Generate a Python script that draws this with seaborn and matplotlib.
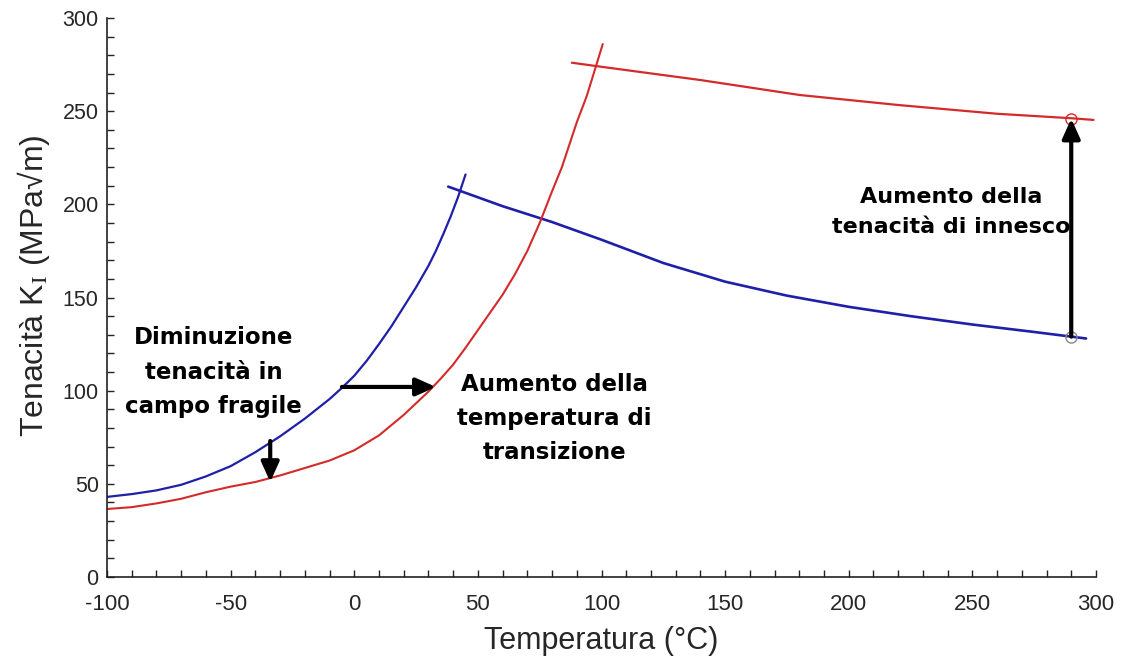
import matplotlib
matplotlib.use('Agg')
import matplotlib.pyplot as plt
import seaborn as sns
from matplotlib import font_manager as fm
from matplotlib.ticker import MultipleLocator

# ---- data ----
blue_low_x = [-100, -90, -80, -70, -60, -50, -40, -30, -20, -10, -5, 0, 5, 10, 15, 20, 25, 30, 33, 36, 39, 42, 45]
blue_low_y = [43, 44.5, 46.5, 49.5, 54, 59.5, 67, 75.5, 85, 95.5, 101.5, 108, 116, 125, 134.5, 145, 155.5, 167, 175, 184, 193.5, 204, 216]

blue_up_x = [38, 60, 80, 100, 125, 150, 175, 200, 225, 250, 275, 290, 296]
blue_up_y = [209.5, 199, 190.5, 181, 168.5, 158.5, 151, 145, 140, 135.5, 131.5, 129, 128]

red_low_x = [-100, -90, -80, -70, -60, -50, -40, -30, -20, -10, 0, 10, 20, 30, 35, 40, 45, 50, 55, 60, 65, 70, 75, 80, 84, 87, 90, 94, 97.5, 100.5]
red_low_y = [36.5, 37.5, 39.5, 42, 45.5, 48.5, 51, 54.5, 58.5, 62.5, 68, 76, 87, 99.5, 106.5, 114, 123, 132.5, 142, 151.5, 162.5, 175, 190, 207, 220, 232, 244, 258, 273, 286]

red_up_x = [88, 100, 140, 180, 220, 260, 290, 299]
red_up_y = [276, 273.8, 266.7, 258.7, 253.3, 248.6, 246.2, 245.3]

marker_x = [290, 290]
marker_y = [129, 246]

# arrows: (tail_x, tail_y) -> (head_x, head_y)
arrow_tail_x = [-34, -5, 290]
arrow_tail_y = [73, 102, 129]
arrow_head_x = [-34, 33, 290]
arrow_head_y = [51, 102, 246]

notes = ["Diminuzione\ntenacità in\ncampo fragile",
         "Aumento della\ntemperatura di\ntransizione",
         "Aumento della\ntenacità di innesco"]
note_x = [-57, 81, 241.5]
note_y = [110, 85, 196]
note_size = [16.5, 16.5, 16]

x_ticks = [-100, -50, 0, 50, 100, 150, 200, 250, 300]
y_ticks = [0, 50, 100, 150, 200, 250, 300]

BLUE = '#1f1fa8'
RED = '#d42a2a'

sns.set_theme(style='white')
plt.rcParams['font.family'] = ['Liberation Sans', 'DejaVu Sans']
plt.rcParams['mathtext.fontset'] = 'stix'

names = {f.name for f in fm.fontManager.ttflist}
narrow = 'Liberation Sans Narrow' if 'Liberation Sans Narrow' in names else 'Liberation Sans'

fig = plt.figure(figsize=(11.22, 6.66), dpi=100)
ax = fig.add_axes([0.0954, 0.1336, 0.8814, 0.8394])

sns.lineplot(x=blue_low_x, y=blue_low_y, color=BLUE, lw=1.6, sort=False, estimator=None, ax=ax)
sns.lineplot(x=blue_up_x, y=blue_up_y, color=BLUE, lw=1.9, sort=False, estimator=None, ax=ax)
sns.lineplot(x=red_low_x, y=red_low_y, color=RED, lw=1.5, sort=False, estimator=None, ax=ax)
sns.lineplot(x=red_up_x, y=red_up_y, color=RED, lw=1.6, sort=False, estimator=None, ax=ax)

ax.plot(marker_x[0], marker_y[0], 'o', ms=8, mfc='none', mec='#888888', mew=1)
ax.plot(marker_x[1], marker_y[1], 'o', ms=8, mfc='none', mec=RED, mew=1)

for tx, ty, hx, hy in zip(arrow_tail_x, arrow_tail_y, arrow_head_x, arrow_head_y):
    ax.annotate('', xy=(hx, hy), xytext=(tx, ty),
                arrowprops=dict(arrowstyle='-|>,head_length=0.6,head_width=0.27',
                                lw=3, color='black', shrinkA=0, shrinkB=0,
                                mutation_scale=20))

for t, x, y, fs in zip(notes, note_x, note_y, note_size):
    ax.text(x, y, t, ha='center', va='center', fontsize=fs, fontweight='bold',
            family=['DejaVu Sans'], linespacing=1.62, color='black')

ax.set_xlim(-100, 300)
ax.set_ylim(0, 300)
ax.set_xticks(x_ticks)
ax.set_yticks(y_ticks)
ax.set_xticklabels([str(v) for v in x_ticks], family=[narrow, 'Liberation Sans'], fontsize=16)
ax.set_yticklabels([str(v) for v in y_ticks], fontsize=15.5)
ax.xaxis.set_minor_locator(MultipleLocator(10))
ax.yaxis.set_minor_locator(MultipleLocator(10))
ax.tick_params(which='both', direction='in', length=5, width=1, color='#222222')
ax.tick_params(axis='x', which='major', pad=12)
ax.tick_params(axis='y', which='major', pad=6)
ax.tick_params(axis='both', which='both', bottom=True, left=True, top=False, right=False)

for s in ['top', 'right']:
    ax.spines[s].set_visible(False)
for s in ['left', 'bottom']:
    ax.spines[s].set_color('#222222')
    ax.spines[s].set_linewidth(1.2)

ax.set_xlabel('Temperatura (°C)', family=[narrow, 'Liberation Sans'], fontsize=22, labelpad=8)
ax.set_ylabel('Tenacità K$_{\\mathrm{I}}$ (MPa√m)', fontsize=23)
ax.yaxis.set_label_coords(-0.056, 0.522)

fig.savefig('out.png', dpi=100, facecolor='white')
